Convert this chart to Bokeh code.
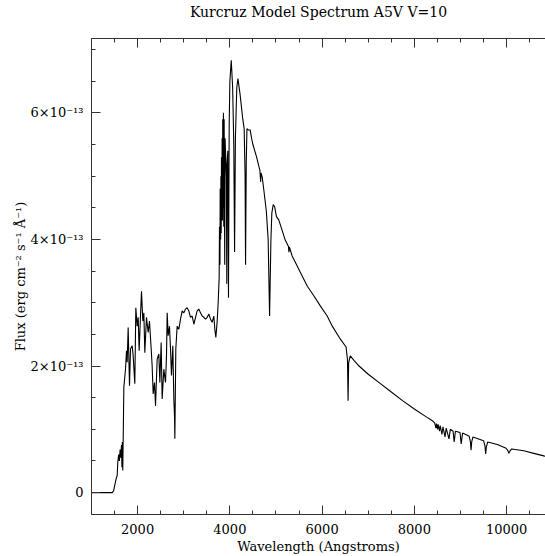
from bokeh.plotting import figure
from bokeh.models import Range1d, FixedTicker, LinearAxis, CustomLabelingPolicy
from bokeh.embed import file_html
from bokeh.resources import INLINE

# Wavelength in Angstroms, flux in units of 1e-13 erg cm^-2 s^-1 A^-1
wavelength = [
    1000, 1450, 1480, 1535, 1557, 1571, 1590, 1605, 1620, 1635, 1650, 1660, 1668, 1678, 1690,
    1701, 1737, 1759, 1773, 1795, 1824, 1846, 1882, 1903, 1939, 1961, 1990, 2012, 2033, 2062,
    2084, 2113, 2135, 2156, 2192, 2229, 2257, 2294, 2315, 2337, 2366, 2388, 2424, 2460, 2482,
    2510, 2532, 2568, 2604, 2626, 2641, 2662, 2691, 2713, 2734, 2763, 2785, 2800, 2807, 2828,
    2857, 2893, 2930, 2966, 3002, 3038, 3074, 3110, 3146, 3183, 3219, 3255, 3291, 3327, 3363,
    3399, 3436, 3472, 3508, 3544, 3580, 3616, 3652, 3674, 3696, 3725, 3746, 3768,
    3775, 3785, 3790, 3800, 3805, 3812, 3818, 3825, 3832, 3840, 3845, 3852, 3860, 3868, 3876,
    3882, 3889, 3896, 3905, 3915, 3925, 3933, 3940, 3955, 3970, 3985, 4000, 4030, 4060, 4085,
    4102, 4120, 4150, 4175, 4220, 4280, 4310, 4330, 4340, 4355, 4370, 4400, 4440, 4470, 4500,
    4540, 4580, 4630, 4650, 4668, 4675, 4700, 4735, 4790, 4830, 4861, 4890, 4910, 4940, 4970,
    5010, 5060, 5130, 5200, 5270, 5280, 5290, 5350, 5460, 5570, 5680, 5820, 5960, 6110, 6220,
    6400, 6520, 6550, 6563, 6575, 6610, 6700, 6800, 7000, 7250, 7500, 7750, 8000, 8250, 8400,
    8440, 8467, 8480, 8502, 8515, 8545, 8560, 8598, 8620, 8665, 8690, 8750, 8780, 8840, 8863,
    8890, 8990, 9015, 9045, 9190, 9215, 9229, 9243, 9270, 9500, 9530, 9546, 9560, 9590, 9800,
    9990, 10030, 10049, 10075, 10110, 10373, 10590, 10806, 10900,
]
flux = [
    0.00, 0.00, 0.03, 0.22, 0.27, 0.49, 0.60, 0.50, 0.68, 0.55, 0.75, 0.40, 0.80, 0.35, 1.00,
    1.66, 1.95, 2.24, 2.06, 2.61, 1.69, 2.27, 2.32, 2.16, 1.72, 2.92, 2.63, 2.77, 2.24, 2.79,
    3.18, 2.71, 2.84, 2.21, 2.77, 2.53, 2.71, 2.27, 2.00, 1.56, 1.74, 1.37, 2.11, 2.19, 1.74,
    2.37, 1.48, 1.95, 1.74, 2.16, 2.84, 2.48, 2.63, 2.27, 1.85, 2.32, 1.48, 1.20, 0.85, 2.27,
    2.63, 2.58, 2.74, 2.87, 2.84, 2.90, 2.92, 2.87, 2.77, 2.79, 2.66, 2.77, 2.87, 2.90, 2.84,
    2.79, 2.77, 2.74, 2.77, 2.82, 2.74, 2.69, 2.79, 2.58, 2.45, 2.71, 3.00, 3.40,
    4.20, 3.60, 4.80, 4.00, 5.00, 4.10, 5.30, 4.30, 5.60, 4.30, 5.90, 4.50, 6.00, 4.20, 5.90,
    4.60, 3.60, 5.60, 5.40, 5.20, 5.00, 3.30, 5.20, 5.40, 3.08, 5.80, 6.50, 6.83, 6.40, 5.50,
    3.80, 5.60, 6.40, 6.54, 6.30, 5.90, 5.75, 5.00, 3.60, 5.20, 5.75, 5.73, 5.73, 5.60, 5.50,
    5.40, 5.30, 5.15, 5.10, 4.91, 5.05, 4.99, 4.79, 4.45, 4.00, 2.79, 4.00, 4.42, 4.55, 4.52,
    4.36, 4.31, 4.15, 3.99, 3.89, 3.80, 3.88, 3.74, 3.58, 3.42, 3.26, 3.11, 2.95, 2.79, 2.63,
    2.42, 2.30, 2.10, 1.45, 2.05, 2.16, 2.08, 2.00, 1.87, 1.73, 1.59, 1.45, 1.32, 1.20, 1.13,
    1.10, 1.02, 1.09, 1.00, 1.08, 0.97, 1.06, 0.92, 1.04, 0.88, 1.02, 0.85, 1.00, 0.97, 0.80,
    0.97, 0.95, 0.77, 0.94, 0.89, 0.80, 0.67, 0.80, 0.88, 0.82, 0.74, 0.61, 0.72, 0.80, 0.76,
    0.70, 0.66, 0.62, 0.66, 0.69, 0.66, 0.62, 0.58, 0.56,
]

x_major = [2000, 4000, 6000, 8000, 10000]
x_minor = [1000, 1500, 2500, 3000, 3500, 4500, 5000, 5500, 6500, 7000, 7500, 8500, 9000, 9500, 10500]
y_major = [0, 2, 4, 6]
y_minor = [-0.5, 0.5, 1, 1.5, 2.5, 3, 3.5, 4.5, 5, 5.5, 6.5, 7]
y_labels = ["0", "2×10⁻¹³", "4×10⁻¹³", "6×10⁻¹³"]
title_text = "Kurcruz Model Spectrum A5V V=10"

FONT = "DejaVu Serif"
FRAME = "#333333"

p = figure(width=545, height=556, output_backend="svg", toolbar_location=None,
           x_range=Range1d(1000, 10843), y_range=Range1d(-0.346, 7.175),
           x_axis_location=None, y_axis_location=None,
           min_border_left=91, min_border_right=0, min_border_top=38, min_border_bottom=40)
p.outline_line_color = None
p.xgrid.visible = False
p.ygrid.visible = False
p.background_fill_color = "white"
p.border_fill_color = "white"


def style(ax):
    ax.axis_line_color = FRAME
    ax.axis_line_width = 1
    ax.major_tick_line_color = FRAME
    ax.minor_tick_line_color = FRAME
    ax.major_tick_in = 9
    ax.major_tick_out = 0
    ax.minor_tick_in = 4
    ax.minor_tick_out = 0
    ax.major_label_text_font = FONT
    ax.major_label_text_font_size = "13px"
    ax.major_label_text_color = "black"
    ax.axis_label_text_font = FONT
    ax.axis_label_text_font_size = "13px"
    ax.axis_label_text_font_style = "normal"
    ax.axis_label_text_color = "black"


xb = LinearAxis(ticker=FixedTicker(ticks=x_major, minor_ticks=x_minor),
                axis_label="Wavelength (Angstroms)")
style(xb)
xb.major_label_standoff = 9
xb.axis_label_standoff = 2
p.add_layout(xb, "below")

# top frame edge with inward ticks; carries the chart title as its label
xt = LinearAxis(ticker=FixedTicker(ticks=x_major, minor_ticks=x_minor),
                axis_label=title_text)
style(xt)
xt.major_label_policy = CustomLabelingPolicy(code="return new Set();")
xt.major_label_text_font_size = "0px"
xt.major_label_standoff = 0
xt.axis_label_text_font_size = "14px"
xt.axis_label_standoff = 19
p.add_layout(xt, "above")

yl = LinearAxis(ticker=FixedTicker(ticks=y_major, minor_ticks=y_minor),
                axis_label="Flux (erg cm⁻² s⁻¹ Å⁻¹)")
style(yl)
yl.major_label_overrides = {t: s for t, s in zip(y_major, y_labels)}
yl.major_label_standoff = 8
yl.axis_label_standoff = 0
p.add_layout(yl, "left")

p.line(wavelength, flux, line_color="black", line_width=1.1)

open("out.html", "w").write(file_html(p, INLINE))
